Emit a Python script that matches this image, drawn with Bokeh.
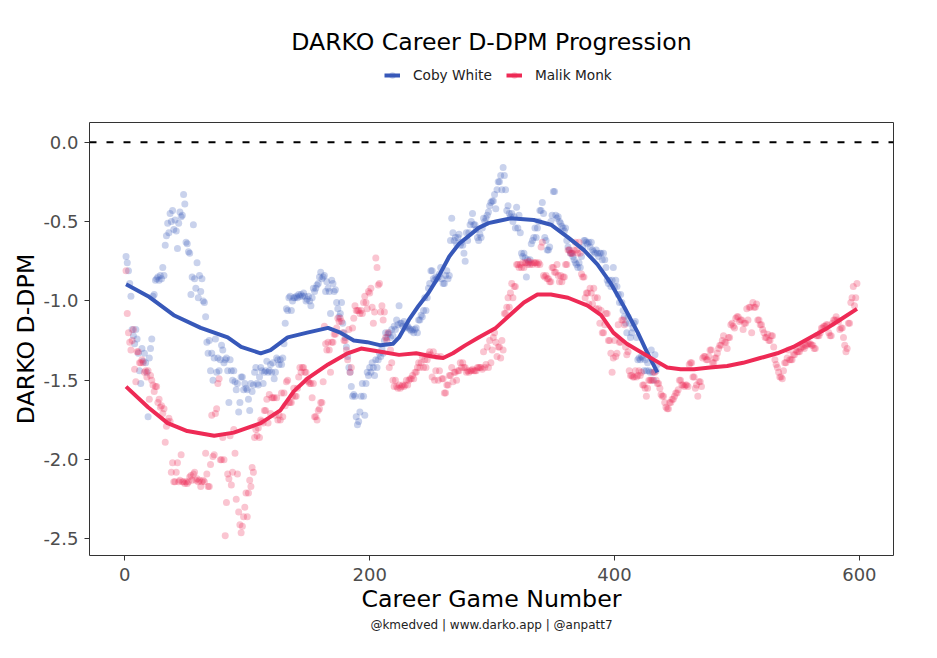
from bokeh.plotting import figure
from bokeh.layouts import column
from bokeh.models import (Range1d, FixedTicker, PrintfTickFormatter, Span,
                          Legend, LegendItem, Label, Title, ColumnDataSource)
from bokeh.embed import file_html
from bokeh.resources import INLINE

# DARKO D-DPM per career game
coby = [
    -0.72, -0.76, -0.81, -0.89, -0.97, -1.18, -1.22, -1.27, -1.18, -1.24,
    -1.33, -1.44, -1.52, -1.30, -1.38, -1.33, -1.39, -1.45, -1.73, -1.36,
    -1.30, -1.24, -0.97, -0.96, -0.87, -0.86, -0.85, -0.87, -0.84, -0.86,
    -0.79, -0.84, -0.65, -0.59, -0.51, -0.57, -0.45, -0.50, -0.43, -0.55,
    -0.49, -0.56, -0.67, -0.51, -0.44, -0.47, -0.46, -0.33, -0.39, -0.63,
    -0.64, -0.69, -0.70, -0.96, -0.85, -0.52, -0.86, -0.92, -0.76, -0.98,
    -0.84, -0.94, -0.86, -1.00, -1.01, -1.10, -1.26, -1.33, -1.25, -1.44,
    -1.33, -1.50, -1.36, -1.24, -1.45, -1.36, -1.44, -1.37, -1.28, -1.31,
    -1.39, -1.37, -1.36, -1.44, -1.64, -1.37, -1.44, -1.50, -1.44, -1.51,
    -1.56, -1.52, -1.70, -1.64, -1.48, -1.48, -1.56, -1.52, -1.55, -1.56,
    -1.62, -1.69, -1.52, -1.57, -1.53, -1.45, -1.42, -1.52, -1.53, -1.48,
    -1.42, -1.44, -1.52, -1.45, -1.44, -1.38, -1.45, -1.44, -1.40, -1.45,
    -1.39, -1.49, -1.45, -1.36, -1.37, -1.40, -1.37, -1.40, -1.36, -1.27,
    -1.14, -1.05, -1.06, -0.98, -0.97, -1.06, -1.00, -0.98, -0.98, -0.97,
    -0.98, -0.96, -0.97, -0.96, -0.97, -0.95, -0.97, -1.00, -0.99, -0.97,
    -1.00, -1.03, -0.98, -0.92, -0.94, -0.92, -0.90, -0.89, -0.85, -0.82,
    -0.86, -0.85, -0.84, -0.94, -0.88, -0.92, -0.94, -1.08, -0.87, -0.89,
    -0.94, -0.93, -1.01, -1.05, -1.10, -1.08, -1.01, -1.14, -1.20, -1.23,
    -1.29, -1.35, -1.42, -1.45, -1.54, -1.60, -1.59, -1.60, -1.73, -1.78,
    -1.76, -1.70, -1.60, -1.52, -1.60, -1.72, -1.52, -1.45, -1.47, -1.42,
    -1.45, -1.39, -1.42, -1.47, -1.37, -1.42, -1.37, -1.33, -1.35, -1.30,
    -1.33, -1.25, -1.20, -1.23, -1.21, -1.20, -1.23, -1.18, -1.22, -1.16,
    -1.18, -1.12, -1.15, -1.03, -1.14, -1.14, -1.16, -1.13, -1.17, -1.16,
    -1.16, -1.17, -1.18, -1.19, -1.18, -1.20, -1.18, -1.17, -1.20, -1.12,
    -1.12, -1.09, -1.10, -1.06, -0.98, -1.06, -0.98, -0.92, -0.89, -0.81,
    -0.81, -0.86, -0.87, -0.85, -0.86, -0.85, -0.83, -0.79, -0.86, -0.89,
    -0.89, -0.84, -0.81, -0.86, -0.84, -0.62, -0.48, -0.57, -0.62, -0.60,
    -0.64, -0.60, -0.58, -0.65, -0.63, -0.65, -0.70, -0.75, -0.57, -0.62,
    -0.57, -0.52, -0.50, -0.45, -0.52, -0.52, -0.55, -0.60, -0.62, -0.58,
    -0.60, -0.54, -0.48, -0.50, -0.48, -0.46, -0.44, -0.40, -0.38, -0.37,
    -0.37, -0.33, -0.42, -0.30, -0.25, -0.25, -0.21, -0.30, -0.16, -0.21,
    -0.30, -0.43, -0.40, -0.45, -0.47, -0.45, -0.50, -0.47, -0.54, -0.41,
    -0.54, -0.46, -0.57, -0.70, -0.72, -0.70, -0.73, -0.85, -0.74, -0.76,
    -0.74, -0.64, -0.62, -0.60, -0.54, -0.60, -0.54, -0.50, -0.43, -0.43,
    -0.38, -0.45, -0.60, -0.62, -0.68, -0.68, -0.66, -0.50, -0.46, -0.31,
    -0.31, -0.46, -0.48, -0.47, -0.50, -0.51, -0.53, -0.54, -0.56, -0.54,
    -0.62, -0.66, -0.68, -0.70, -0.70, -0.72, -0.74, -0.76, -0.77, -0.79,
    -0.76, -0.79, -0.72, -0.66, -0.62, -0.62, -0.63, -0.64, -0.63, -0.66,
    -0.63, -0.68, -0.69, -0.70, -0.68, -0.70, -0.72, -0.70, -0.70, -0.74,
    -0.70, -0.74, -0.79, -0.87, -0.89, -0.87, -0.91, -0.87, -0.79, -0.91,
    -0.87, -0.91, -0.96, -1.01, -0.96, -1.01, -1.06, -1.10, -1.14, -1.20,
    -1.10, -1.14, -1.23, -1.20, -1.17, -1.14, -1.13, -1.23, -1.37, -1.36,
    -1.37, -1.35, -1.36, -1.44, -1.37, -1.44, -1.39, -1.44, -1.45, -1.31,
    -1.45, -1.50, -1.34, -1.44, -1.40,
]

monk = [
    -0.81, -1.08, -1.20, -1.26, -1.31, -1.25, -1.18, -1.43, -1.51, -1.32,
    -1.32, -1.39, -1.39, -1.37, -1.39, -1.45, -1.44, -1.48, -1.44, -1.62,
    -1.47, -1.50, -1.53, -1.57, -1.54, -1.54, -1.64, -1.62, -1.67, -1.66,
    -1.71, -1.68, -1.89, -1.79, -1.76, -1.74, -1.76, -2.08, -2.02, -2.14,
    -2.14, -2.08, -2.02, -2.14, -2.13, -1.97, -2.14, -2.14, -2.15, -2.14,
    -2.15, -2.14, -2.11, -2.10, -2.13, -2.09, -2.08, -2.13, -2.12, -2.14,
    -2.13, -2.17, -2.14, -2.13, -2.14, -1.96, -2.09, -2.17, -2.17, -2.03,
    -1.72, -1.98, -1.97, -1.71, -1.68, -1.52, -1.49, -2.00, -2.00, -1.86,
    -2.00, -2.48, -2.27, -2.09, -2.12, -1.85, -2.16, -2.08, -1.81, -1.96,
    -2.25, -2.09, -2.33, -2.41, -2.46, -2.42, -2.36, -2.30, -2.21, -2.36,
    -2.21, -2.13, -2.17, -2.05, -2.08, -1.86, -1.81, -1.85, -1.80, -1.86,
    -1.75, -1.76, -1.77, -1.69, -1.69, -1.62, -1.77, -1.59, -1.71, -1.61,
    -1.61, -1.61, -1.72, -1.61, -1.75, -1.72, -1.75, -1.58, -1.73, -1.58,
    -1.66, -1.51, -1.50, -1.64, -1.64, -1.64, -1.60, -1.55, -1.60, -1.60,
    -1.55, -1.48, -1.42, -1.45, -1.42, -1.42, -1.45, -1.45, -1.50, -1.51,
    -1.52, -1.52, -1.61, -1.52, -1.73, -1.73, -1.75, -1.69, -1.68, -1.64,
    -1.64, -1.51, -1.16, -1.27, -1.31, -1.26, -1.31, -1.45, -1.26, -1.26,
    -1.21, -1.21, -1.17, -1.11, -1.13, -1.11, -1.13, -1.20, -1.25, -1.25,
    -1.31, -1.37, -1.18, -1.45, -1.42, -1.17, -1.11, -1.03, -1.06, -1.06,
    -1.06, -1.08, -1.06, -1.08, -1.01, -0.97, -1.01, -1.05, -0.94, -0.95,
    -0.92, -1.04, -1.14, -1.07, -0.73, -0.79, -0.90, -0.89, -1.07, -1.03,
    -1.12, -1.07, -1.23, -1.25, -1.20, -1.42, -1.31, -1.39, -1.50, -1.54,
    -1.50, -1.54, -1.55, -1.53, -1.55, -1.54, -1.53, -1.54, -1.53, -1.50,
    -1.53, -1.50, -1.49, -1.49, -1.47, -1.49, -1.45, -1.45, -1.42, -1.39,
    -1.42, -1.39, -1.35, -1.42, -1.37, -1.42, -1.37, -1.34, -1.32, -1.34,
    -1.48, -1.32, -1.50, -1.44, -1.35, -1.50, -1.44, -1.35, -1.49, -1.49,
    -1.58, -1.58, -1.53, -1.53, -1.47, -1.47, -1.42, -1.51, -1.45, -1.45,
    -1.50, -1.44, -1.44, -1.39, -1.42, -1.39, -1.42, -1.42, -1.45, -1.44,
    -1.45, -1.44, -1.44, -1.43, -1.44, -1.44, -1.44, -1.42, -1.42, -1.42,
    -1.42, -1.43, -1.32, -1.42, -1.40, -1.29, -1.42, -1.25, -1.39, -1.31,
    -1.23, -1.20, -1.26, -1.35, -1.29, -1.29, -1.36, -1.25, -1.31, -1.08,
    -1.08, -1.04, -0.98, -1.04, -0.95, -0.89, -0.98, -0.91, -0.91, -0.77,
    -0.77, -0.79, -0.77, -0.79, -0.76, -0.79, -0.76, -0.76, -0.77, -0.75,
    -0.77, -0.76, -0.77, -0.76, -0.76, -0.76, -0.77, -0.76, -0.77, -0.66,
    -0.63, -0.84, -0.85, -0.84, -0.86, -0.86, -0.88, -0.88, -0.79, -0.79,
    -0.82, -0.82, -0.77, -0.84, -0.88, -0.84, -0.88, -0.85, -0.85, -0.77,
    -0.77, -0.68, -0.68, -0.70, -0.70, -0.70, -0.68, -0.63, -0.68, -0.70,
    -0.63, -0.70, -0.83, -0.85, -0.85, -0.98, -0.95, -0.95, -1.02, -0.92,
    -0.95, -1.02, -0.92, -0.98, -1.05, -0.98, -1.05, -1.14, -1.06, -1.20,
    -1.20, -1.15, -1.08, -1.08, -1.25, -1.25, -1.33, -1.45, -1.36, -1.25,
    -1.35, -1.33, -1.15, -1.26, -1.26, -1.12, -1.12, -1.15, -1.29, -1.34,
    -1.32, -1.44, -1.47, -1.47, -1.48, -1.48, -1.44, -1.48, -1.47, -1.44,
    -1.47, -1.45, -1.53, -1.53, -1.55, -1.60, -1.55, -1.50, -1.50, -1.50,
    -1.50, -1.45, -1.45, -1.50, -1.52, -1.52, -1.55, -1.59, -1.60, -1.60,
    -1.64, -1.67, -1.68, -1.68, -1.64, -1.64, -1.62, -1.62, -1.60, -1.58,
    -1.58, -1.56, -1.50, -1.50, -1.53, -1.53, -1.54, -1.53, -1.53, -1.54,
    -1.40, -1.39, -1.39, -1.48, -1.48, -1.55, -1.53, -1.60, -1.51, -1.51,
    -1.54, -1.36, -1.35, -1.35, -1.37, -1.37, -1.35, -1.31, -1.31, -1.39,
    -1.39, -1.36, -1.36, -1.33, -1.30, -1.28, -1.28, -1.25, -1.22, -1.26,
    -1.26, -1.30, -1.23, -1.23, -1.15, -1.14, -1.16, -1.17, -1.11, -1.10,
    -1.10, -1.13, -1.12, -1.12, -1.18, -1.14, -1.14, -1.05, -1.12, -1.04,
    -1.04, -1.20, -1.01, -1.04, -1.04, -1.02, -1.12, -1.12, -1.15, -1.15,
    -1.18, -1.20, -1.23, -1.23, -1.21, -1.25, -1.25, -1.22, -1.22, -1.29,
    -1.37, -1.40, -1.42, -1.45, -1.48, -1.48, -1.49, -1.44, -1.39, -1.39,
    -1.36, -1.31, -1.37, -1.37, -1.37, -1.34, -1.34, -1.31, -1.32, -1.32,
    -1.32, -1.30, -1.29, -1.29, -1.30, -1.28, -1.28, -1.27, -1.27, -1.27,
    -1.28, -1.28, -1.30, -1.30, -1.22, -1.22, -1.22, -1.20, -1.17, -1.17,
    -1.16, -1.16, -1.15, -1.15, -1.20, -1.22, -1.22, -1.14, -1.12, -1.12,
    -1.10, -1.12, -1.13, -1.18, -1.17, -1.17, -1.23, -1.28, -1.32, -1.30,
    -1.14, -1.14, -1.01, -0.98, -0.91, -1.03, -0.98, -0.89,
]

# smoothed trend lines (at these game numbers)
coby_smooth_games = [1, 19, 40, 62, 84, 95, 111, 119, 133, 149, 166, 176, 187,
                     198, 209, 219, 224, 232, 240, 248, 256, 265, 273, 281, 289,
                     297, 303, 315, 334, 348, 362, 375, 386, 397, 408, 419, 427, 435]
coby_smooth = [-0.895, -0.97, -1.09, -1.17, -1.23, -1.29, -1.33, -1.31, -1.23,
               -1.20, -1.17, -1.20, -1.25, -1.26, -1.28, -1.27, -1.23, -1.12,
               -1.03, -0.95, -0.85, -0.72, -0.64, -0.59, -0.54, -0.51, -0.50,
               -0.48, -0.49, -0.52, -0.60, -0.68, -0.77, -0.89, -1.04, -1.20,
               -1.33, -1.45]

monk_smooth_games = [1, 19, 35, 51, 73, 89, 111, 127, 138, 149, 166, 182, 193,
                     209, 224, 238, 251, 260, 268, 278, 289, 303, 313, 326, 337,
                     348, 362, 378, 389, 399, 410, 421, 432, 443, 454, 465, 478,
                     492, 505, 519, 533, 546, 560, 574, 584, 598]
monk_smooth = [-1.54, -1.67, -1.77, -1.82, -1.85, -1.83, -1.77, -1.69, -1.57,
               -1.49, -1.40, -1.33, -1.30, -1.32, -1.34, -1.33, -1.35, -1.36,
               -1.33, -1.28, -1.23, -1.17, -1.10, -1.01, -0.96, -0.96, -0.98,
               -1.03, -1.09, -1.20, -1.27, -1.32, -1.37, -1.42, -1.43, -1.43,
               -1.42, -1.41, -1.39, -1.36, -1.33, -1.29, -1.23, -1.17, -1.12,
               -1.05]

x_ticks = [0, 200, 400, 600]
y_ticks = [0.0, -0.5, -1.0, -1.5, -2.0, -2.5]

BLUE = "#3758b9"
RED = "#ee2a55"
FONT = "DejaVu Sans"
HEAD_H = 100
FRAME_L, FRAME_R = 89, 893   # the column lines up both frames

# --- header strip: title and legend -------------------------------------
head = figure(width=937, height=HEAD_H, output_backend="svg",
              toolbar_location=None, x_range=Range1d(FRAME_L, FRAME_R),
              y_range=Range1d(0, HEAD_H), x_axis_location=None,
              y_axis_location=None, min_border=0,
              min_border_left=FRAME_L, min_border_right=937 - FRAME_R)
head.outline_line_color = None
head.xgrid.visible = False
head.ygrid.visible = False
head.border_fill_color = "white"

head.add_layout(Label(x=491, y=HEAD_H - 41, text="DARKO Career D-DPM Progression",
                      text_align="center", text_baseline="middle",
                      text_font=FONT, text_font_size="23.6px",
                      text_color="black"))

# legend key glyphs (kept outside the header's visible range)
hcl = head.line([-10, -5], [-10, -10], line_color=BLUE, line_width=4)
hcp = head.scatter([-10], [-10], size=7, fill_color=BLUE, fill_alpha=0.27,
                   line_color=None)
hml = head.line([-10, -5], [-10, -10], line_color=RED, line_width=4)
hmp = head.scatter([-10], [-10], size=7, fill_color=RED, fill_alpha=0.27,
                   line_color=None)
legend = Legend(items=[LegendItem(label="Coby White", renderers=[hcl, hcp]),
                       LegendItem(label="Malik Monk", renderers=[hml, hmp])],
                orientation="horizontal", location=(384 - FRAME_L, HEAD_H - 75 - 8),
                glyph_width=16, glyph_height=16, label_standoff=13, spacing=14,
                padding=0, margin=0, border_line_color=None,
                background_fill_alpha=0, label_text_font=FONT,
                label_text_font_size="13.7px", label_text_color="#222222")
head.add_layout(legend)

# --- main panel -----------------------------------------------------------
p = figure(width=937, height=658 - HEAD_H, output_backend="svg",
           toolbar_location=None, title=None,
           x_range=Range1d(-28.85, 627.85), y_range=Range1d(-2.604, 0.124),
           min_border_left=FRAME_L, min_border_right=937 - FRAME_R,
           min_border_top=122 - HEAD_H, min_border_bottom=103)
p.background_fill_color = "white"
p.border_fill_color = "white"
p.outline_line_color = "#333333"
p.outline_line_width = 1
p.xgrid.visible = False
p.ygrid.visible = False

for ax in (p.xaxis[0], p.yaxis[0]):
    ax.axis_line_color = None
    ax.major_tick_in = 0
    ax.major_tick_out = 5
    ax.major_tick_line_color = "#333333"
    ax.minor_tick_line_color = None
    ax.major_label_text_font = FONT
    ax.major_label_text_font_size = "18px"
    ax.major_label_text_color = "#4d4d4d"
    ax.axis_label_text_font = FONT
    ax.axis_label_text_font_size = "23.7px"
    ax.axis_label_text_font_style = "normal"
    ax.axis_label_text_color = "black"

p.xaxis.ticker = FixedTicker(ticks=x_ticks)
p.yaxis.ticker = FixedTicker(ticks=y_ticks)
p.yaxis.formatter = PrintfTickFormatter(format="%.1f")
p.xaxis.axis_label = "Career Game Number"
p.yaxis.axis_label = "DARKO D-DPM"
p.xaxis.major_label_standoff = 7
p.yaxis.major_label_standoff = 6
p.xaxis.axis_label_standoff = 1
p.yaxis.axis_label_standoff = 0

p.add_layout(Span(location=0, dimension="width", line_color="black",
                  line_width=2, line_dash="7 10"))

coby_src = ColumnDataSource(dict(game=list(range(1, len(coby) + 1)), dpm=coby))
monk_src = ColumnDataSource(dict(game=list(range(1, len(monk) + 1)), dpm=monk))

p.scatter("game", "dpm", source=coby_src, size=7, fill_color=BLUE,
          fill_alpha=0.27, line_color=None)
p.scatter("game", "dpm", source=monk_src, size=7, fill_color=RED,
          fill_alpha=0.27, line_color=None)
p.line(coby_smooth_games, coby_smooth, line_color=BLUE, line_width=4,
       line_join="round")
p.line(monk_smooth_games, monk_smooth, line_color=RED, line_width=4,
       line_join="round")

# caption under the x axis label
p.add_layout(Title(text="@kmedved | www.darko.app | @anpatt7", align="center",
                   text_font=FONT, text_font_size="12px",
                   text_font_style="normal", text_color="#222222",
                   standoff=0), "below")

open("out.html", "w").write(file_html(column(head, p, spacing=0), INLINE))
